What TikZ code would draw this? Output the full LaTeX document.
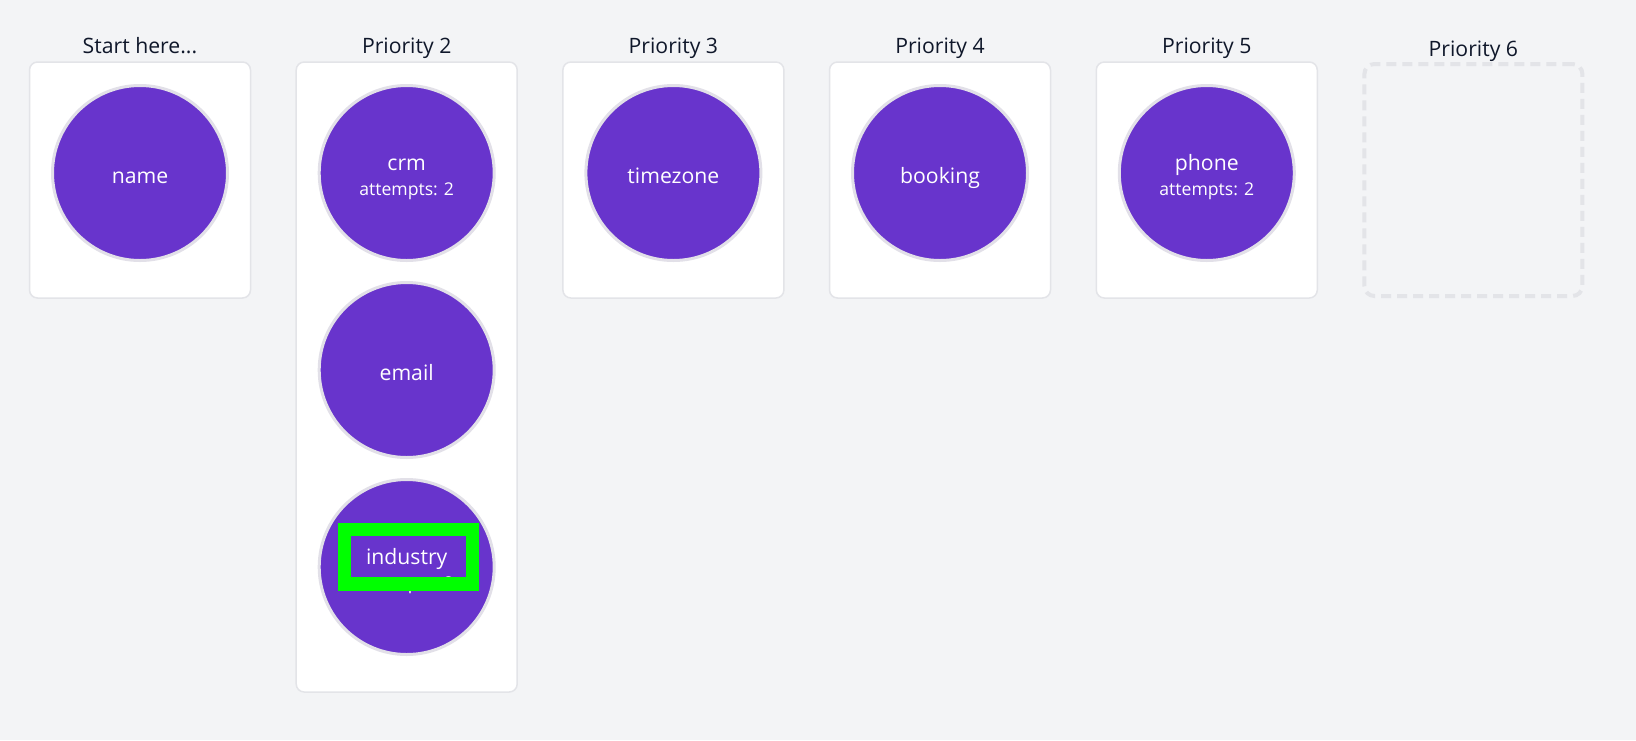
\documentclass[tikz,border=0pt]{standalone}
\usepackage{fontspec}
\setmainfont{Open Sans}
\definecolor{pagebg}{HTML}{F3F4F6}
\definecolor{cardline}{HTML}{E3E4E8}
\definecolor{ringline}{HTML}{E2E0E8}
\definecolor{purplefill}{HTML}{6834CC}
\definecolor{titlecol}{HTML}{0F172A}
\definecolor{hlgreen}{HTML}{00FF00}
\begin{document}
\begin{tikzpicture}[x=1pt,y=-1pt,
  card/.style={draw=cardline,line width=1.5pt,fill=white,rounded corners=8pt,minimum width=221pt,inner sep=0pt,outer sep=0pt},
  emptycard/.style={draw=cardline,line width=4pt,dash pattern=on 10pt off 6pt,rounded corners=10pt,minimum width=218pt,minimum height=232pt,inner sep=0pt},
  fieldcircle/.style={circle,fill=purplefill,draw=ringline,line width=3pt,minimum size=175pt,inner sep=0pt,outer sep=0pt},
  coltitle/.style={text=titlecol,font=\fontsize{21.2}{25}\selectfont,inner sep=0pt,anchor=base},
  fieldname/.style={text=white,font=\fontsize{21.2}{25}\selectfont,inner sep=0pt,anchor=base},
  attempts/.style={text=white,font=\fontsize{17.6}{21}\selectfont,inner sep=0pt,anchor=base},
  highlight/.style={draw=hlgreen,line width=13.5pt}
]
\fill[pagebg] (0,0) rectangle (1636,740);
\useasboundingbox (0,0) rectangle (1636,740);

% titles
\node[coltitle] (t1) at (140,53.3) {Start here...};
\node[coltitle] (t2) at (406.7,53.3) {Priority 2};
\node[coltitle] (t3) at (673.4,53.3) {Priority 3};
\node[coltitle] (t4) at (940,53.3) {Priority 4};
\node[coltitle] (t5) at (1206.8,53.3) {Priority 5};
\node[coltitle] (t6) at (1473.4,56.7) {Priority 6};

% cards
\node[card,minimum height=236pt] (c1) at (140,180) {};
\node[card,minimum height=630pt] (c2) at (406.7,377) {};
\node[card,minimum height=236pt] (c3) at (673.4,180) {};
\node[card,minimum height=236pt] (c4) at (940,180) {};
\node[card,minimum height=236pt] (c5) at (1206.8,180) {};
\node[emptycard] (c6) at (1473.4,180) {};

% circles
\node[fieldcircle] (name) at (140,173) {};
\node[fieldname] (namet) at ([yshift=-10pt]name.center) {name};

\node[fieldcircle] (crm) at (406.7,173) {};
\node[fieldname] (crmt) at ([yshift=3pt]crm.center) {crm};
\node[attempts] (crma) at ([yshift=-22pt]crm.center) {attempts: 2};

\node[fieldcircle] (email) at (406.7,370) {};
\node[fieldname] (emailt) at ([yshift=-10pt]email.center) {email};

\node[fieldcircle] (industry) at (406.7,567) {};
\node[fieldname] (industryt) at ([yshift=3pt]industry.center) {industry};
\node[attempts] (industrya) at ([yshift=-22pt]industry.center) {attempts: 2};

\node[fieldcircle] (timezone) at (673.4,173) {};
\node[fieldname] (timezonet) at ([yshift=-10pt]timezone.center) {timezone};

\node[fieldcircle] (booking) at (940,173) {};
\node[fieldname] (bookingt) at ([yshift=-10pt]booking.center) {booking};

\node[fieldcircle] (phone) at (1206.8,173) {};
\node[fieldname] (phonet) at ([yshift=3pt]phone.center) {phone};
\node[attempts] (phonea) at ([yshift=-22pt]phone.center) {attempts: 2};

% green highlight
\coordinate (hl1) at (344.3,529.3);
\coordinate (hl2) at (472.5,584);
\draw[highlight] (hl1) rectangle (hl2);
\end{tikzpicture}
\end{document}
